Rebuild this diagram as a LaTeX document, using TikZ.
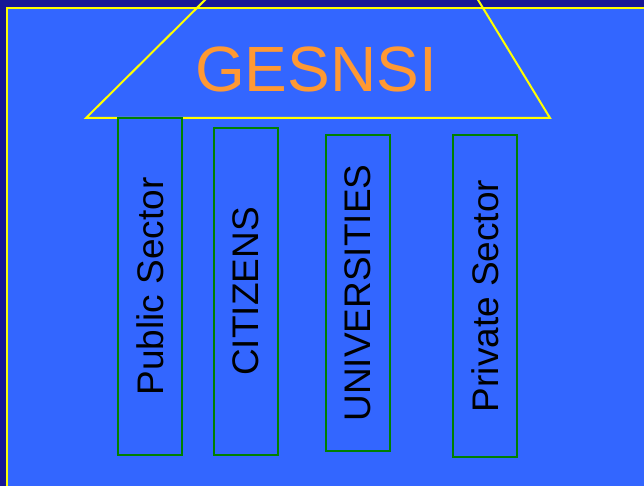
\documentclass[tikz,border=0pt]{standalone}
\usepackage{fontspec}
\setmainfont{Liberation Sans}
\definecolor{navy}{RGB}{24,24,150}
\definecolor{slideblue}{RGB}{51,102,255}
\definecolor{edgeyellow}{RGB}{255,255,0}
\definecolor{titleorange}{RGB}{255,153,51}
\definecolor{pillargreen}{RGB}{0,128,0}
\tikzset{
  pillar/.style={draw=pillargreen, line width=2pt, rotate=90, inner sep=0pt,
    font=\fontsize{37}{37}\selectfont, text=black},
}

\begin{document}
\begin{tikzpicture}[x=1pt, y=-1pt]
\useasboundingbox (0,0) rectangle (644,486);
\clip (0,0) rectangle (644,486);
\fill[navy] (0,0) rectangle (644,486);
\draw[edgeyellow, fill=slideblue, line width=2pt] (7,8) rectangle (660,500);
% roof
\draw[edgeyellow, line width=2pt] (215,-10) -- (86,118) -- (550,118) -- (472,-10);
\node[text=titleorange, font=\fontsize{64}{64}\selectfont] (title) at (316,69) {GESNSI};
% pillars
\node[pillar, minimum width=337pt, minimum height=64pt] (public) at (150,286.5) {Public Sector};
\node[pillar, minimum width=327pt, minimum height=64pt] (citizens) at (246,291.5) {CITIZENS};
\node[pillar, minimum width=316pt, minimum height=64pt] (universities) at (358,293) {UNIVERSITIES};
\node[pillar, minimum width=322pt, minimum height=64pt] (private) at (485,296) {Private Sector};
\end{tikzpicture}
\end{document}
